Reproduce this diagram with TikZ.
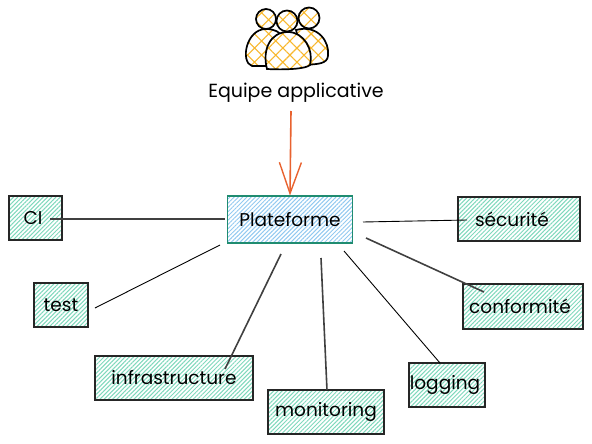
\documentclass[tikz,border=0pt]{standalone}
\usepackage{fontspec}
\setmainfont{Poppins}
\usepackage{tikz}
\usetikzlibrary{arrows.meta,patterns.meta,positioning}

\definecolor{hachgreen}{HTML}{7FD8BC}
\definecolor{hachblue}{HTML}{92C9F0}
\definecolor{hachorange}{HTML}{F8B72C}
\definecolor{arrowred}{HTML}{E8622F}
\definecolor{edgegreen}{HTML}{1F8C70}

\begin{document}
\begin{tikzpicture}[
    x=1pt, y=-1pt,
    tool/.style={rectangle, draw=black!85, line width=1.3pt, inner sep=0pt, text=black, font=\fontsize{18.5}{20}\selectfont,
        pattern={Lines[angle=45,distance=3pt,line width=1pt]}, pattern color=hachgreen},
    platform/.style={tool, draw=edgegreen, pattern color=hachblue},
    link/.style={draw=black, line width=0.9pt},
    linkbold/.style={draw=black!75, line width=1.6pt},
    person/.style={draw=black, line width=1.7pt, preaction={fill=white}, pattern={Hatch[angle=45,distance=10pt,line width=1.1pt]}, pattern color=hachorange},
    team/.style={font=\fontsize{19}{20}\selectfont},
    flow/.style={draw=arrowred, line width=1.6pt, -{Straight Barb[length=31pt,width=22pt,line width=1.4pt]}}
]
    \useasboundingbox (0,0) rectangle (592,444);

    % Team
    \path[person] (252,66) .. controls (240,62) and (246,29) .. (266,29) .. controls (282,29) and (290,40) .. (288,66) -- cycle;
    \path[person] (296,30) .. controls (318,24) and (330,42) .. (328,56) .. controls (327,64) and (318,64) .. (305,65) -- cycle;
    \node[circle, person, minimum size=20pt, inner sep=0pt] (head1) at (266,19) {};
    \node[circle, person, minimum size=21pt, inner sep=0pt] (head3) at (309,18) {};
    \path[person] (267,69) .. controls (262,50) and (270,32) .. (288,32) .. controls (304,32) and (314,50) .. (310,65) .. controls (306,69) and (285,70) .. (267,69) -- cycle;
    \node[circle, person, minimum size=21pt, inner sep=0pt] (head2) at (287,21) {};
    \node[team] (team) at (296,93) {Equipe applicative};

    % Platform
    \node[platform, minimum width=125pt, minimum height=47pt] (plat) at (290,219.5) {Plateforme};

    % Tools
    \node[tool, minimum width=53pt, minimum height=44pt] (ci) at (35.5,218) {\hspace*{-5pt}CI};
    \node[tool, minimum width=54pt, minimum height=44pt] (test) at (61,305) {test};
    \node[tool, minimum width=158pt, minimum height=44pt] (infra) at (174,378) {infrastructure};
    \node[tool, minimum width=116pt, minimum height=44pt] (monit) at (326,412) {monitoring};
    \node[tool, minimum width=76pt, minimum height=44pt] (logg) at (447,385) {\hspace*{-4pt}logging};
    \node[tool, minimum width=122pt, minimum height=44pt] (secu) at (519,219) {\hspace*{-14pt}sécurité};
    \node[tool, minimum width=120pt, minimum height=45pt] (conf) at (523,306.5) {\hspace*{-6pt}conformité};

    % Free ends
    \coordinate (ciend) at (50,219);
    \coordinate (platci) at (225,219);
    \coordinate (testend) at (95,308);
    \coordinate (plattest) at (220,245);
    \coordinate (infraend) at (225,369);
    \coordinate (platinfra) at (281,254);
    \coordinate (platmonit) at (321,258);
    \coordinate (monitend) at (327,390);
    \coordinate (platlogg) at (344,251);
    \coordinate (loggend) at (440,363);
    \coordinate (platsecu) at (363,222);
    \coordinate (secuend) at (467,220);
    \coordinate (platconf) at (366,238);
    \coordinate (confend) at (484,292);
    \coordinate (teamend) at (291,111);

    % Connectors
    \draw[flow] (teamend) -- (plat.north);
    \draw[linkbold] (ciend) -- (platci);
    \draw[link] (testend) -- (plattest);
    \draw[linkbold] (infraend) -- (platinfra);
    \draw[linkbold] (platmonit) -- (monitend);
    \draw[link] (platlogg) -- (loggend);
    \draw[link] (platsecu) -- (secuend);
    \draw[linkbold] (platconf) -- (confend);
\end{tikzpicture}
\end{document}
